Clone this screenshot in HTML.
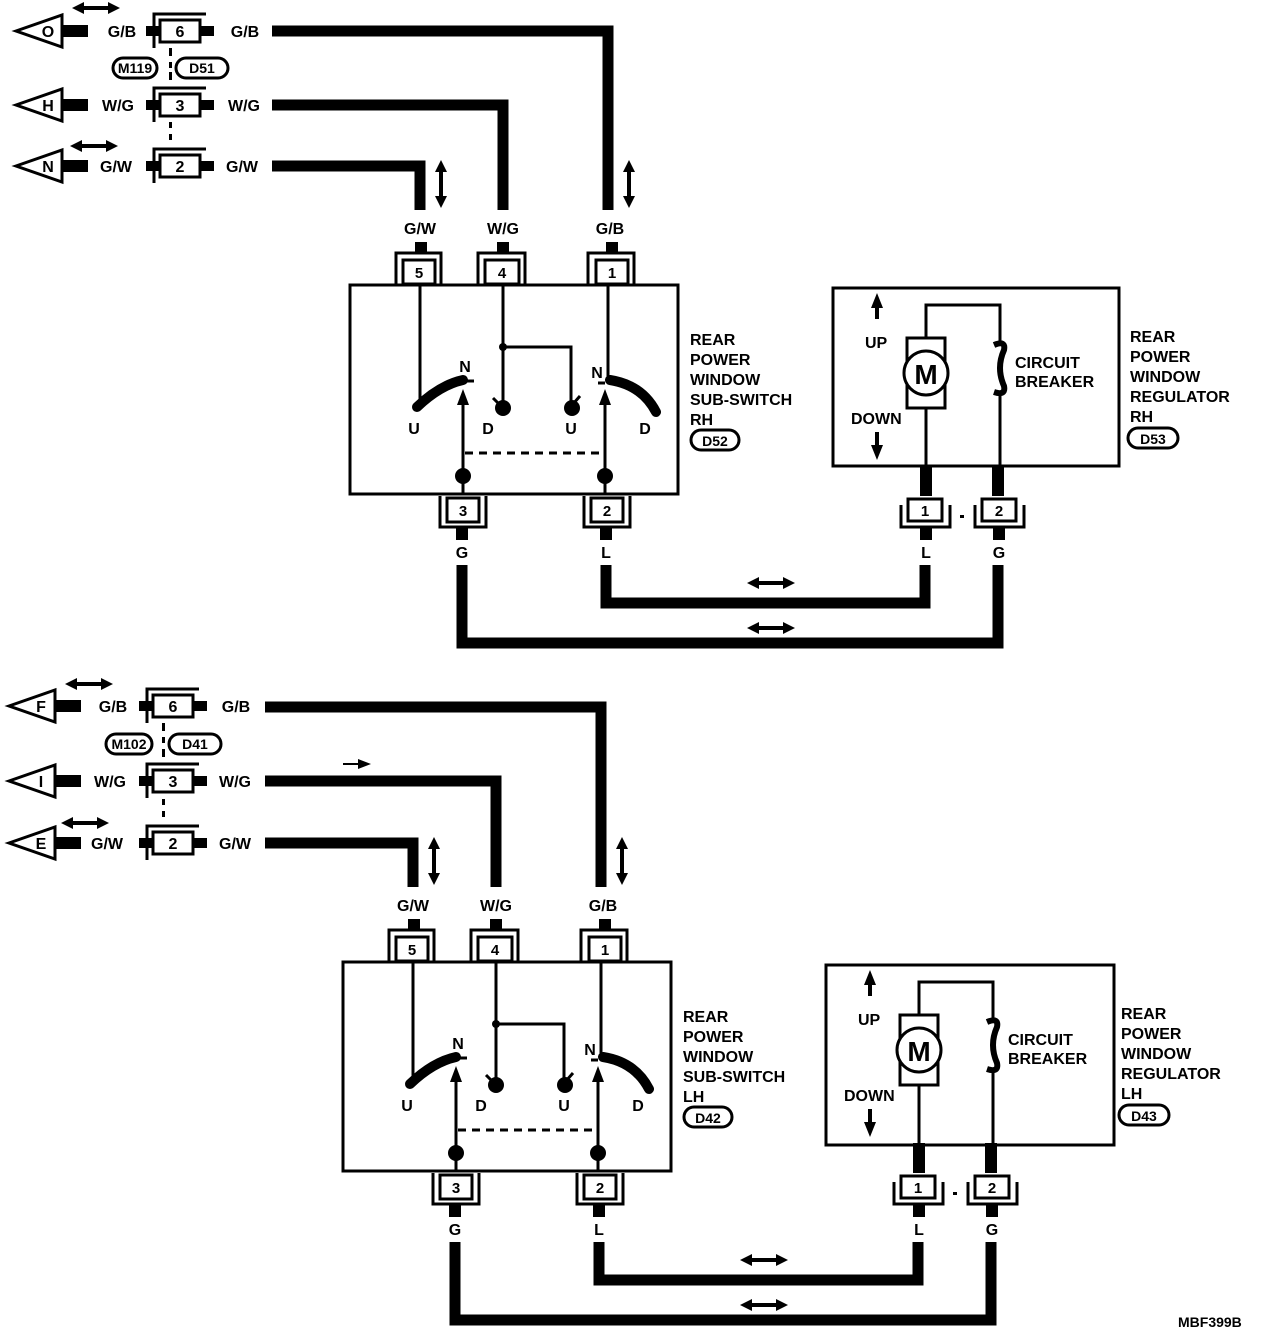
<!DOCTYPE html>
<html><head><style>
html,body{margin:0;padding:0;background:#fff}
svg{display:block}
text{font-family:"Liberation Sans",sans-serif;font-weight:bold;fill:#000}
</style></head><body>
<svg width="1264" height="1336" viewBox="0 0 1264 1336" xmlns="http://www.w3.org/2000/svg">
<defs>
<g id="dblh"><path d="M0,0 L12,-6 L12,-2 L36,-2 L36,-6 L48,0 L36,6 L36,2 L12,2 L12,6 Z" fill="#000"/></g>
<g id="dblv"><path d="M0,0 L-6,12 L-2,12 L-2,36 L-6,36 L0,48 L6,36 L2,36 L2,12 L6,12 Z" fill="#000"/></g>
</defs>

<g id="top">
<g fill="none" stroke="#000" stroke-width="3">
<polygon points="16,31 62,15 62,47" fill="#fff"/>
<polygon points="16,105 62,89 62,121" fill="#fff"/>
<polygon points="16,166 62,150 62,182" fill="#fff"/>
</g>
<g fill="#000">
<rect x="62" y="25" width="26" height="12"/><rect x="62" y="99" width="26" height="12"/><rect x="62" y="160" width="26" height="12"/>
<rect x="146" y="26" width="14" height="10"/><rect x="200" y="26" width="14" height="10"/>
<rect x="146" y="100" width="14" height="10"/><rect x="200" y="100" width="14" height="10"/>
<rect x="146" y="161" width="14" height="10"/><rect x="200" y="161" width="14" height="10"/>
<rect x="169" y="48" width="3" height="8"/><rect x="169" y="62" width="3" height="6"/><rect x="169" y="72" width="3" height="8"/>
<rect x="169" y="122" width="3" height="6"/><rect x="169" y="134" width="3" height="6"/>
</g>
<g fill="#fff" stroke="#000" stroke-width="3">
<rect x="160" y="20" width="40" height="22"/><rect x="160" y="94" width="40" height="22"/><rect x="160" y="155" width="40" height="22"/>
</g>
<g fill="none" stroke="#000" stroke-width="3">
<path d="M154,48 V14 H206"/><path d="M154,122 V88 H206"/><path d="M154,183 V149 H206"/>
</g>
<g font-size="16" text-anchor="middle">
<text x="48" y="37">O</text><text x="48" y="111">H</text><text x="48" y="172">N</text>
<text x="180" y="37">6</text><text x="180" y="111">3</text><text x="180" y="172">2</text>
<text x="122" y="37">G/B</text><text x="245" y="37">G/B</text>
<text x="118" y="111">W/G</text><text x="244" y="111">W/G</text>
<text x="116" y="172">G/W</text><text x="242" y="172">G/W</text>
</g>
<use href="#dblh" x="72" y="8"/><use href="#dblh" x="70" y="146"/>
<g fill="none" stroke="#000" stroke-width="3">
<rect x="113" y="58" width="44" height="20" rx="10"/><rect x="176" y="58" width="52" height="20" rx="10"/>
</g>
<g font-size="14" text-anchor="middle"><text x="135" y="73">M119</text><text x="202" y="73">D51</text></g>

<g fill="none" stroke="#000" stroke-width="11">
<path d="M272,31 H608 V210"/><path d="M272,105 H503 V210"/><path d="M272,166 H420 V210"/>
<path d="M606,565 V603 H925 V565"/><path d="M462,565 V643 H998 V565"/>
</g>
<use href="#dblv" x="441" y="160"/><use href="#dblv" x="629" y="160"/>
<use href="#dblh" x="747" y="583"/><use href="#dblh" x="747" y="628"/>

<g font-size="16" text-anchor="middle">
<text x="420" y="234">G/W</text><text x="503" y="234">W/G</text><text x="610" y="234">G/B</text>
<text x="462" y="558">G</text><text x="606" y="558">L</text>
<text x="926" y="558">L</text><text x="999" y="558">G</text>
</g>

<g fill="#000">
<rect x="415" y="242" width="12" height="12"/><rect x="497" y="242" width="12" height="12"/><rect x="606" y="242" width="12" height="12"/>
<rect x="456" y="528" width="12" height="12"/><rect x="600" y="528" width="12" height="12"/>
</g>
<g fill="#fff" stroke="#000" stroke-width="3">
<rect x="403" y="260" width="32" height="24"/><rect x="485" y="260" width="34" height="24"/><rect x="596" y="260" width="32" height="24"/>
<rect x="447" y="498" width="32" height="24"/><rect x="591" y="498" width="32" height="24"/>
</g>
<g fill="none" stroke="#000" stroke-width="3">
<path d="M396,285 V253 H441 V285"/><path d="M478,285 V253 H525 V285"/><path d="M588,285 V253 H634 V285"/>
<path d="M440,496 V527 H486 V496"/><path d="M584,496 V527 H630 V496"/>
</g>
<g font-size="15" text-anchor="middle">
<text x="419" y="278">5</text><text x="502" y="278">4</text><text x="612" y="278">1</text>
<text x="463" y="516">3</text><text x="607" y="516">2</text>
</g>

<rect x="350" y="285" width="328" height="209" fill="none" stroke="#000" stroke-width="3"/>
<g fill="none" stroke="#000" stroke-width="3">
<path d="M420,285 V405"/><path d="M503,285 V408"/><path d="M503,347 H571 V405"/>
<path d="M608,285 V380"/><path d="M463,494 V395"/><path d="M605,494 V395"/>
<path d="M465,453 H605" stroke-dasharray="8,6"/>
<path d="M493,398 L500,405"/><path d="M580,396 L573,404"/><path d="M467,381 L474,381"/><path d="M598,383 L605,383"/>
</g>
<g fill="none" stroke="#000" stroke-width="10" stroke-linecap="round">
<path d="M417,407 Q440,385 463,380"/><path d="M610,380 Q642,385 656,412"/>
</g>
<g fill="#000">
<polygon points="463,389 457,405 469,405"/><polygon points="605,389 599,405 611,405"/>
<circle cx="503" cy="347" r="4"/><circle cx="503" cy="408" r="8"/><circle cx="572" cy="408" r="8"/>
<circle cx="463" cy="476" r="8"/><circle cx="605" cy="476" r="8"/>
</g>
<g font-size="16" text-anchor="middle">
<text x="465" y="372">N</text><text x="597" y="378">N</text>
<text x="414" y="434">U</text><text x="488" y="434">D</text><text x="571" y="434">U</text><text x="645" y="434">D</text>
</g>
<g font-size="16">
<text x="690" y="345">REAR</text><text x="690" y="365">POWER</text><text x="690" y="385">WINDOW</text>
<text x="690" y="405">SUB-SWITCH</text><text x="690" y="425">RH</text>
</g>
<rect x="691" y="430" width="48" height="20" rx="10" fill="none" stroke="#000" stroke-width="3"/>
<text x="715" y="446" font-size="14" text-anchor="middle">D52</text>

<rect x="833" y="288" width="286" height="178" fill="none" stroke="#000" stroke-width="3"/>
<g fill="none" stroke="#000" stroke-width="3">
<path d="M926,338 V305 H1000 V345"/><path d="M1000,392 V466"/><path d="M926,408 V466"/>
<rect x="907" y="338" width="38" height="70" fill="#fff"/>
<circle cx="926" cy="373" r="22" fill="#fff"/>
</g>
<path d="M994,345 Q1006,340 1004,350 Q996,368 1004,386 Q1006,396 994,392" fill="none" stroke="#000" stroke-width="6"/>
<text x="926" y="384" font-size="28" text-anchor="middle">M</text>
<g fill="#000">
<polygon points="877,293 871,308 883,308"/><rect x="875" y="307" width="4" height="12"/>
<polygon points="877,460 871,445 883,445"/><rect x="875" y="432" width="4" height="14"/>
<rect x="920" y="466" width="12" height="30"/><rect x="992" y="466" width="12" height="30"/>
<rect x="920" y="528" width="12" height="12"/><rect x="993" y="528" width="12" height="12"/>
<rect x="960" y="515" width="4" height="3"/>
</g>
<g fill="#fff" stroke="#000" stroke-width="3">
<rect x="908" y="499" width="34" height="22"/><rect x="982" y="499" width="34" height="22"/>
</g>
<g fill="none" stroke="#000" stroke-width="3">
<path d="M901,505 V527 H950 V505"/><path d="M975,505 V527 H1024 V505"/>
</g>
<g font-size="15" text-anchor="middle"><text x="925" y="516">1</text><text x="999" y="516">2</text></g>
<g font-size="16">
<text x="865" y="348">UP</text><text x="851" y="424">DOWN</text>
<text x="1015" y="368">CIRCUIT</text><text x="1015" y="387">BREAKER</text>
<text x="1130" y="342">REAR</text><text x="1130" y="362">POWER</text><text x="1130" y="382">WINDOW</text>
<text x="1130" y="402">REGULATOR</text><text x="1130" y="422">RH</text>
</g>
<rect x="1128" y="428" width="50" height="20" rx="10" fill="none" stroke="#000" stroke-width="3"/>
<text x="1153" y="444" font-size="14" text-anchor="middle">D53</text>
</g>

<g transform="translate(-7,677)">
<g fill="none" stroke="#000" stroke-width="3">
<polygon points="16,29 62,13 62,45" fill="#fff"/>
<polygon points="16,104 62,88 62,120" fill="#fff"/>
<polygon points="16,166 62,150 62,182" fill="#fff"/>
</g>
<g fill="#000">
<rect x="62" y="23" width="26" height="12"/><rect x="62" y="98" width="26" height="12"/><rect x="62" y="160" width="26" height="12"/>
<rect x="146" y="24" width="14" height="10"/><rect x="200" y="24" width="14" height="10"/>
<rect x="146" y="99" width="14" height="10"/><rect x="200" y="99" width="14" height="10"/>
<rect x="146" y="161" width="14" height="10"/><rect x="200" y="161" width="14" height="10"/>
<rect x="169" y="46" width="3" height="8"/><rect x="169" y="60" width="3" height="6"/><rect x="169" y="72" width="3" height="8"/>
<rect x="169" y="122" width="3" height="6"/><rect x="169" y="134" width="3" height="6"/>
<polygon points="350,86 365,86 365,82 378,87 365,92 365,88 350,88"/>
</g>
<g fill="#fff" stroke="#000" stroke-width="3">
<rect x="160" y="18" width="40" height="22"/><rect x="160" y="93" width="40" height="22"/><rect x="160" y="155" width="40" height="22"/>
</g>
<g fill="none" stroke="#000" stroke-width="3">
<path d="M154,46 V12 H206"/><path d="M154,121 V87 H206"/><path d="M154,183 V149 H206"/>
</g>
<g font-size="16" text-anchor="middle">
<text x="48" y="35">F</text><text x="48" y="110">I</text><text x="48" y="172">E</text>
<text x="180" y="35">6</text><text x="180" y="110">3</text><text x="180" y="172">2</text>
<text x="120" y="35">G/B</text><text x="243" y="35">G/B</text>
<text x="117" y="110">W/G</text><text x="242" y="110">W/G</text>
<text x="114" y="172">G/W</text><text x="242" y="172">G/W</text>
</g>
<use href="#dblh" x="72" y="7"/><use href="#dblh" x="68" y="146"/>
<g fill="none" stroke="#000" stroke-width="3">
<rect x="113" y="57" width="46" height="20" rx="10"/><rect x="176" y="57" width="52" height="20" rx="10"/>
</g>
<g font-size="14" text-anchor="middle"><text x="136" y="72">M102</text><text x="202" y="72">D41</text></g>

<g fill="none" stroke="#000" stroke-width="11">
<path d="M272,30 H608 V210"/><path d="M272,104 H503 V210"/><path d="M272,166 H420 V210"/>
<path d="M606,565 V603 H925 V565"/><path d="M462,565 V643 H998 V565"/>
</g>
<use href="#dblv" x="441" y="160"/><use href="#dblv" x="629" y="160"/>
<use href="#dblh" x="747" y="583"/><use href="#dblh" x="747" y="628"/>

<g font-size="16" text-anchor="middle">
<text x="420" y="234">G/W</text><text x="503" y="234">W/G</text><text x="610" y="234">G/B</text>
<text x="462" y="558">G</text><text x="606" y="558">L</text>
<text x="926" y="558">L</text><text x="999" y="558">G</text>
</g>
<g fill="#000">
<rect x="415" y="242" width="12" height="12"/><rect x="497" y="242" width="12" height="12"/><rect x="606" y="242" width="12" height="12"/>
<rect x="456" y="528" width="12" height="12"/><rect x="600" y="528" width="12" height="12"/>
</g>
<g fill="#fff" stroke="#000" stroke-width="3">
<rect x="403" y="260" width="32" height="24"/><rect x="485" y="260" width="34" height="24"/><rect x="596" y="260" width="32" height="24"/>
<rect x="447" y="498" width="32" height="24"/><rect x="591" y="498" width="32" height="24"/>
</g>
<g fill="none" stroke="#000" stroke-width="3">
<path d="M396,285 V253 H441 V285"/><path d="M478,285 V253 H525 V285"/><path d="M588,285 V253 H634 V285"/>
<path d="M440,496 V527 H486 V496"/><path d="M584,496 V527 H630 V496"/>
</g>
<g font-size="15" text-anchor="middle">
<text x="419" y="278">5</text><text x="502" y="278">4</text><text x="612" y="278">1</text>
<text x="463" y="516">3</text><text x="607" y="516">2</text>
</g>
<rect x="350" y="285" width="328" height="209" fill="none" stroke="#000" stroke-width="3"/>
<g fill="none" stroke="#000" stroke-width="3">
<path d="M420,285 V405"/><path d="M503,285 V408"/><path d="M503,347 H571 V405"/>
<path d="M608,285 V380"/><path d="M463,494 V395"/><path d="M605,494 V395"/>
<path d="M465,453 H605" stroke-dasharray="8,6"/>
<path d="M493,398 L500,405"/><path d="M580,396 L573,404"/><path d="M467,381 L474,381"/><path d="M598,383 L605,383"/>
</g>
<g fill="none" stroke="#000" stroke-width="10" stroke-linecap="round">
<path d="M417,407 Q440,385 463,380"/><path d="M610,380 Q642,385 656,412"/>
</g>
<g fill="#000">
<polygon points="463,389 457,405 469,405"/><polygon points="605,389 599,405 611,405"/>
<circle cx="503" cy="347" r="4"/><circle cx="503" cy="408" r="8"/><circle cx="572" cy="408" r="8"/>
<circle cx="463" cy="476" r="8"/><circle cx="605" cy="476" r="8"/>
</g>
<g font-size="16" text-anchor="middle">
<text x="465" y="372">N</text><text x="597" y="378">N</text>
<text x="414" y="434">U</text><text x="488" y="434">D</text><text x="571" y="434">U</text><text x="645" y="434">D</text>
</g>
<g font-size="16">
<text x="690" y="345">REAR</text><text x="690" y="365">POWER</text><text x="690" y="385">WINDOW</text>
<text x="690" y="405">SUB-SWITCH</text><text x="690" y="425">LH</text>
</g>
<rect x="691" y="430" width="48" height="20" rx="10" fill="none" stroke="#000" stroke-width="3"/>
<text x="715" y="446" font-size="14" text-anchor="middle">D42</text>

<rect x="833" y="288" width="288" height="180" fill="none" stroke="#000" stroke-width="3"/>
<g fill="none" stroke="#000" stroke-width="3">
<path d="M926,338 V305 H1000 V345"/><path d="M1000,392 V466"/><path d="M926,408 V466"/>
<rect x="907" y="338" width="38" height="70" fill="#fff"/>
<circle cx="926" cy="373" r="22" fill="#fff"/>
</g>
<path d="M994,345 Q1006,340 1004,350 Q996,368 1004,386 Q1006,396 994,392" fill="none" stroke="#000" stroke-width="6"/>
<text x="926" y="384" font-size="28" text-anchor="middle">M</text>
<g fill="#000">
<polygon points="877,293 871,308 883,308"/><rect x="875" y="307" width="4" height="12"/>
<polygon points="877,460 871,445 883,445"/><rect x="875" y="432" width="4" height="14"/>
<rect x="920" y="466" width="12" height="30"/><rect x="992" y="466" width="12" height="30"/>
<rect x="920" y="528" width="12" height="12"/><rect x="993" y="528" width="12" height="12"/>
<rect x="960" y="515" width="4" height="3"/>
</g>
<g fill="#fff" stroke="#000" stroke-width="3">
<rect x="908" y="499" width="34" height="22"/><rect x="982" y="499" width="34" height="22"/>
</g>
<g fill="none" stroke="#000" stroke-width="3">
<path d="M901,505 V527 H950 V505"/><path d="M975,505 V527 H1024 V505"/>
</g>
<g font-size="15" text-anchor="middle"><text x="925" y="516">1</text><text x="999" y="516">2</text></g>
<g font-size="16">
<text x="865" y="348">UP</text><text x="851" y="424">DOWN</text>
<text x="1015" y="368">CIRCUIT</text><text x="1015" y="387">BREAKER</text>
<text x="1128" y="342">REAR</text><text x="1128" y="362">POWER</text><text x="1128" y="382">WINDOW</text>
<text x="1128" y="402">REGULATOR</text><text x="1128" y="422">LH</text>
</g>
<rect x="1126" y="428" width="50" height="20" rx="10" fill="none" stroke="#000" stroke-width="3"/>
<text x="1151" y="444" font-size="14" text-anchor="middle">D43</text>
</g>

<text x="1178" y="1327" font-size="14">MBF399B</text>
</svg>
</body></html>
